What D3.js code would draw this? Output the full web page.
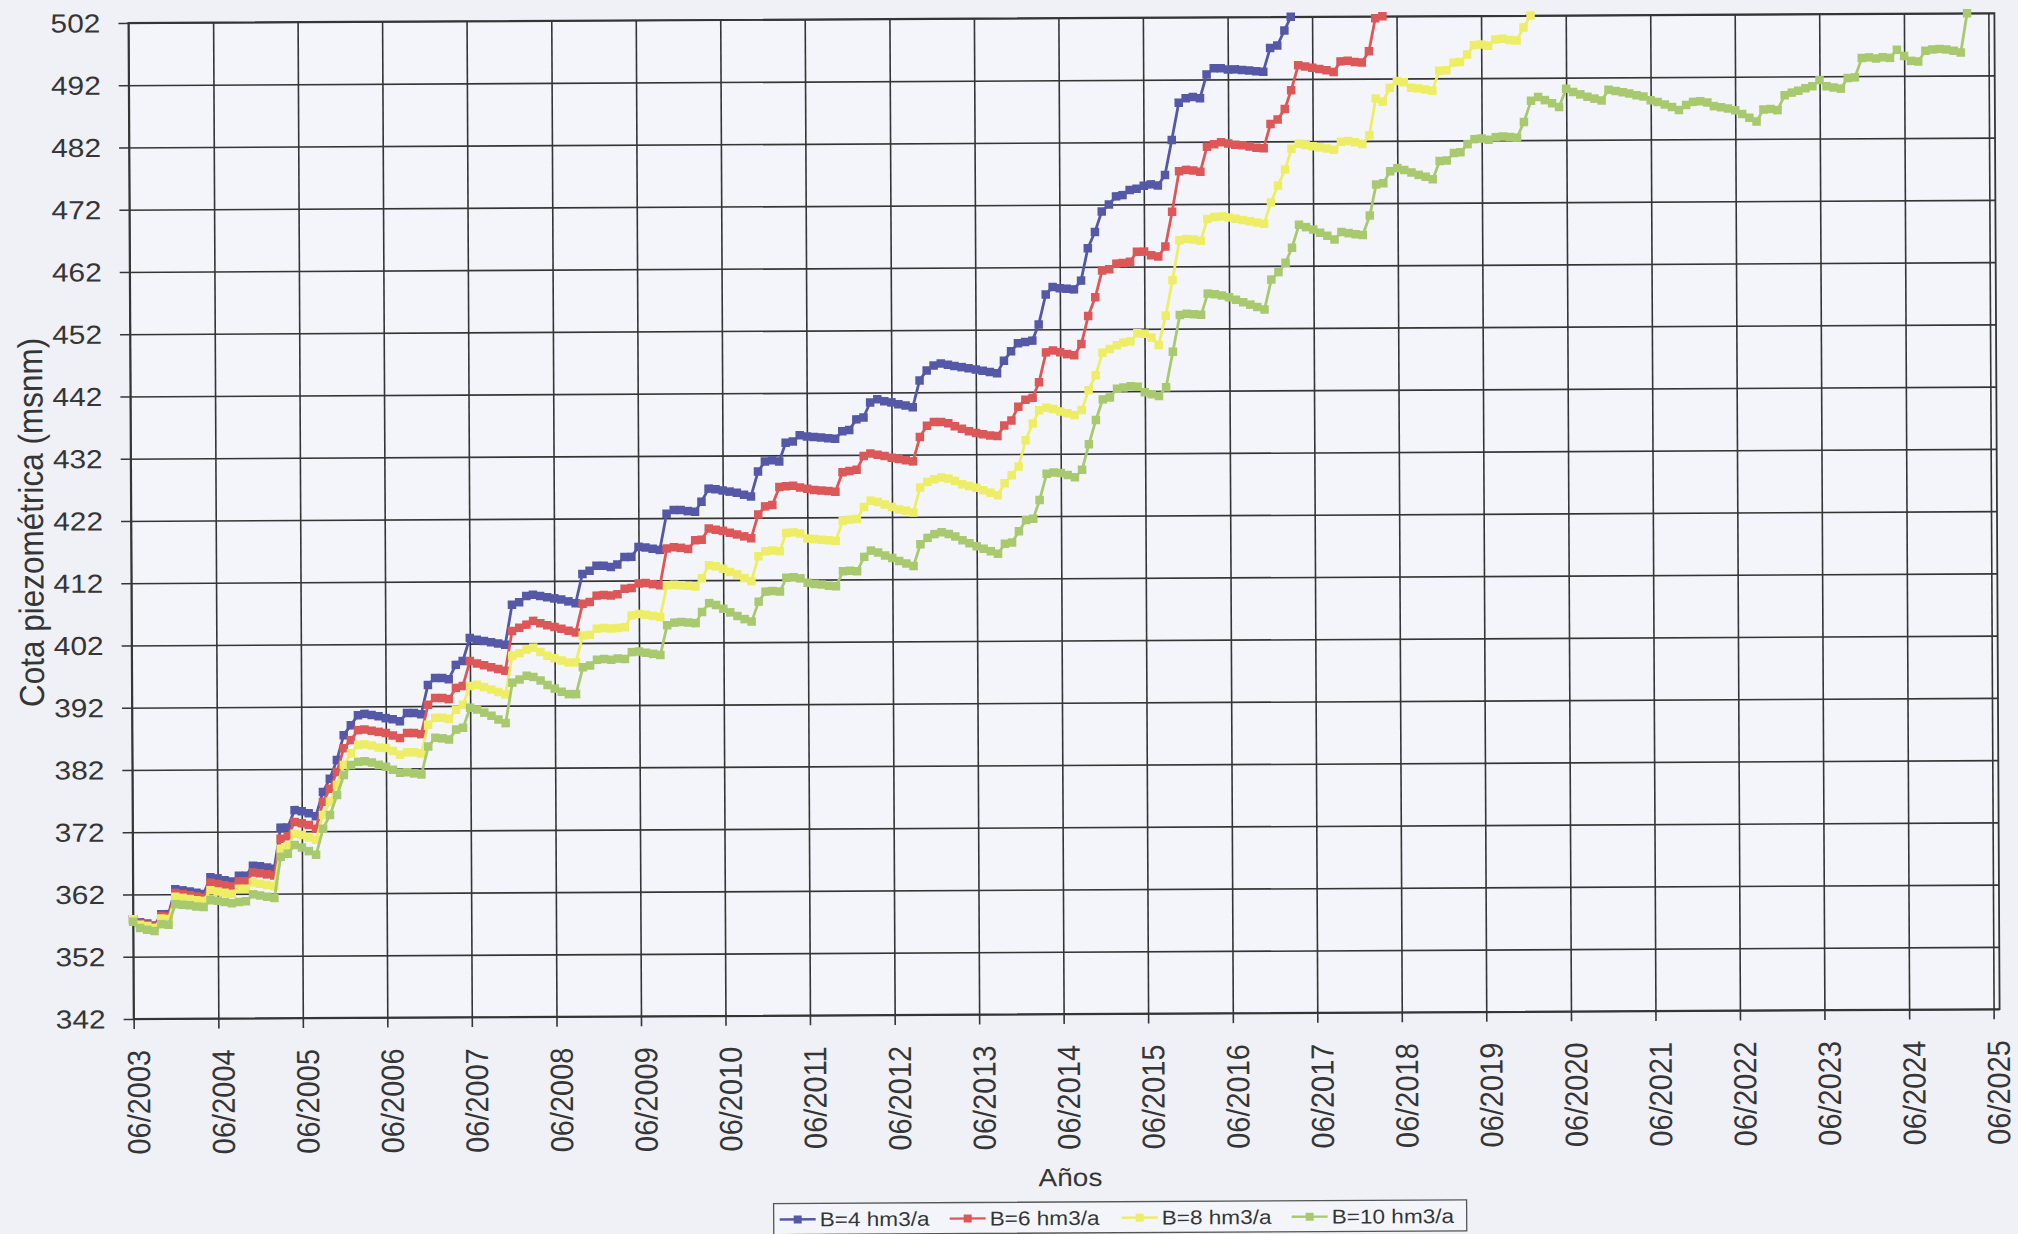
<!DOCTYPE html>
<html>
<head>
<meta charset="utf-8">
<script src="https://cdn.jsdelivr.net/npm/d3@7"></script>
<style>
  html, body { margin: 0; padding: 0; background: #eff1f7; }
  svg { display: block; font-family: "Liberation Sans", Arial, sans-serif; }
</style>
</head>
<body>
<svg id="chart" width="2018" height="1234"></svg>
<script>
// Monthly piezometric level (m a.s.l.) for four pumping scenarios, first value = June 2003
const firstMonth = "2003-06";

const b4 = [
  358, 357.5, 357.3, 357, 358.8, 358.8, 362.8, 362.6, 362.4, 362.2, 362, 364.7,
  364.5, 364.2, 364, 364.9, 364.9, 366.5, 366.4, 366.2, 366, 372.6, 372.6, 375.4,
  375.2, 374.9, 374.4, 378.3, 380.4, 383.4, 387.4, 389, 390.6, 390.8, 390.6, 390.4,
  390.1, 389.9, 389.6, 390.9, 390.9, 390.7, 395.4, 396.5, 396.5, 396.3, 398.6, 399.2,
  402.9, 402.6, 402.4, 402.2, 402, 401.8, 408.2, 408.6, 409.6, 409.8, 409.6, 409.4,
  409.2, 409, 408.7, 408.4, 413.1, 413.6, 414.4, 414.4, 414.2, 414.6, 415.8, 415.8,
  417.4, 417.3, 417.1, 416.9, 422.7, 423.3, 423.3, 423.1, 423, 424.6, 426.7, 426.6,
  426.4, 426.2, 426, 425.7, 425.4, 429.4, 431, 431.2, 431, 434, 434.2, 435.2,
  435, 434.9, 434.8, 434.7, 434.6, 435.8, 436, 437.7, 438, 440.4, 440.9, 440.6,
  440.4, 440.1, 439.9, 439.6, 443.9, 445.5, 446.3, 446.6, 446.4, 446.2, 446, 445.8,
  445.6, 445.4, 445.2, 445, 447, 448.5, 449.8, 450, 450.2, 452.8, 457.6, 458.8,
  458.6, 458.5, 458.4, 459.8, 465, 467.6, 470.9, 472, 473.3, 473.5, 474.3, 474.5,
  475, 475.2, 475, 476.7, 482.3, 488.3, 489, 489.2, 489, 492.8, 493.8, 493.8,
  493.6, 493.6, 493.5, 493.4, 493.3, 493.2, 497, 497.4, 499.8, 502
];

const b6 = [
  358, 357.3, 357.1, 356.8, 358.5, 358.4, 362.2, 362, 361.8, 361.6, 361.4, 363.8,
  363.6, 363.4, 363.2, 364, 364, 365.4, 365.3, 365.1, 364.9, 370.8, 371.2, 373.5,
  373.3, 373, 372.4, 376.7, 378.8, 381.5, 385.3, 386.6, 388.2, 388.3, 388.1, 387.9,
  387.7, 387.3, 386.9, 387.7, 387.7, 387.5, 392.2, 393.3, 393.3, 393.1, 394.9, 395.2,
  399.2, 398.8, 398.5, 398.2, 397.9, 397.6, 404, 404.5, 405, 405.6, 405.2, 404.9,
  404.6, 404.3, 404, 403.7, 408.3, 408.6, 409.6, 409.7, 409.6, 409.8, 410.7, 410.8,
  411.5, 411.6, 411.4, 411.2, 417.1, 417.3, 417.2, 417, 418.4, 418.5, 420.3, 420.1,
  419.9, 419.6, 419.3, 419, 418.7, 422.5, 423.8, 424, 426.9, 427, 427.1, 426.8,
  426.6, 426.4, 426.3, 426.2, 426.1, 429.2, 429.4, 429.6, 431.8, 432.2, 432, 431.8,
  431.5, 431.3, 431.1, 430.9, 434.8, 436.6, 437.2, 437.2, 437, 436.5, 436.1, 435.7,
  435.4, 435.2, 435, 434.9, 436.6, 437.4, 439.6, 440.7, 441, 443.5, 448.3, 448.6,
  448.3, 448, 447.8, 449.6, 454.1, 457.1, 461.4, 461.6, 462.5, 462.6, 462.8, 464.4,
  464.4, 463.8, 463.6, 465.2, 470.8, 477.3, 477.5, 477.4, 477.2, 481.2, 481.6, 481.9,
  481.7, 481.5, 481.4, 481.2, 481, 480.9, 484.8, 485.5, 487.2, 490.2, 494.2, 494,
  493.8, 493.6, 493.4, 493.1, 494.8, 494.9, 494.7, 494.6, 496.4, 501.7, 502
];

const b8 = [
  358, 357.1, 356.9, 356.6, 358.1, 358, 361.6, 361.4, 361.2, 361, 360.9, 362.6,
  362.4, 362.2, 362, 362.8, 362.8, 363.8, 363.6, 363.4, 363.2, 369.2, 369.6, 371.6,
  371.4, 371, 370.6, 374.6, 376.7, 379.4, 382.6, 384.5, 385.8, 385.9, 385.7, 385.4,
  385.3, 384.8, 384.2, 384.6, 384.6, 384.4, 389, 390.1, 390.1, 389.9, 391.4, 392.2,
  395.2, 395.4, 395, 394.6, 394.2, 393.8, 400, 400.4, 401, 401.3, 400.6, 400,
  399.6, 399.2, 398.9, 398.9, 403.2, 403.3, 404.3, 404.4, 404.3, 404.4, 404.5, 406.4,
  406.6, 406.5, 406.3, 406.1, 411.2, 411.3, 411.2, 411.1, 411, 412.3, 414.4, 414.2,
  413.8, 413.3, 412.9, 412.3, 411.8, 415.8, 416.6, 416.7, 416.6, 419.5, 419.6, 419.4,
  418.6, 418.5, 418.4, 418.3, 418.2, 421.4, 421.6, 421.7, 423.6, 424.6, 424.4, 424,
  423.6, 423.2, 423, 422.7, 426.7, 427.6, 428, 428.3, 428.1, 427.7, 427.2, 426.9,
  426.6, 426.2, 425.8, 425.4, 427.3, 428.6, 430, 434.2, 436.9, 439, 439.4, 439.2,
  438.8, 438.5, 438.2, 439, 442.2, 444.6, 448.2, 448.8, 449.4, 449.8, 450, 451.3,
  451.2, 450.6, 449.4, 454.1, 459.8, 466.2, 466.4, 466.3, 466.1, 469.6, 469.9, 470,
  469.8, 469.6, 469.4, 469.2, 469, 468.8, 472.2, 474.9, 477.5, 480.8, 481.6, 481.4,
  481.2, 481, 480.8, 480.6, 481.9, 482, 481.8, 481.5, 482.9, 488.8, 488.3, 490.5,
  491.6, 491.4, 490.5, 490.4, 490.2, 490, 493.2, 493.3, 494.5, 494.6, 495.8, 497.3,
  497.4, 497.2, 498.2, 498.3, 498.1, 498, 500.1, 502
];

const b10 = [
  357.6, 356.6, 356.3, 356.1, 357.2, 357.1, 360.4, 360.3, 360.2, 360, 359.9, 361,
  360.9, 360.7, 360.5, 360.7, 360.8, 361.9, 361.7, 361.5, 361.3, 367.9, 368.4, 369.8,
  369.4, 368.8, 368.2, 372.4, 374.6, 377.8, 381, 382.6, 383.1, 383.2, 383, 382.6,
  382.3, 381.8, 381.3, 381.4, 381.2, 381, 385.5, 386.9, 386.8, 386.6, 388.2, 388.5,
  391.7, 391.4, 390.9, 390.4, 389.8, 389.2, 395.7, 396.2, 396.8, 396.6, 396, 395.3,
  394.7, 394.2, 393.8, 393.8, 398.1, 398.4, 399.3, 399.4, 399.3, 399.5, 399.4, 400.5,
  400.6, 400.4, 400.2, 400, 404.8, 405.2, 405.3, 405.2, 405.1, 406.9, 408.3, 408,
  407.4, 406.8, 406.2, 405.7, 405.3, 408.5, 410.1, 410.2, 410.1, 412.3, 412.4, 412.2,
  411.5, 411.3, 411.2, 411, 410.9, 413.3, 413.4, 413.3, 415.6, 416.6, 416.3, 415.8,
  415.4, 414.9, 414.5, 414.1, 417.6, 418.6, 419.2, 419.5, 419.2, 418.8, 418.2, 417.7,
  417.2, 416.8, 416.4, 416, 417.6, 417.8, 419.6, 421.4, 421.6, 424.6, 428.8, 429,
  428.9, 428.6, 428.2, 429.4, 433.5, 437.4, 440.7, 441, 442.4, 442.6, 442.8, 442.7,
  441.8, 441.5, 441.2, 442.6, 448.3, 454.2, 454.4, 454.3, 454.2, 457.6, 457.5, 457.3,
  457, 456.6, 456.2, 455.8, 455.4, 455, 459.8, 461, 462.5, 464.9, 468.6, 468.2,
  467.8, 467.3, 466.8, 466.2, 467.4, 467.2, 467, 466.9, 470, 475, 475.2, 477.1,
  477.6, 477.3, 476.9, 476.5, 476.2, 475.8, 478.7, 478.8, 480, 480.1, 481.4, 482.2,
  482.3, 482.1, 482.5, 482.6, 482.5, 482.4, 484.9, 488.3, 488.9, 488.4, 487.9, 487.3,
  490.2, 489.7, 489.3, 488.9, 488.6, 488.3, 490, 489.8, 489.6, 489.4, 489.1, 488.9,
  488.3, 488, 487.6, 487.2, 486.7, 487.5, 488, 488.1, 487.9, 487.3, 487.1, 486.9,
  486.6, 486, 485.4, 484.8, 486.7, 486.8, 486.6, 489, 489.4, 489.7, 490.1, 490.4,
  491.4, 490.4, 490.2, 490, 491.7, 491.8, 494.9, 495, 494.8, 495, 494.9, 496.2,
  495.2, 494.4, 494.3, 496, 496.2, 496.3, 496.2, 496, 495.7, 502
];

const seriesNames = ["B=4 hm3/a", "B=6 hm3/a", "B=8 hm3/a", "B=10 hm3/a"];
const seriesColors = ["#5558a6", "#dc5858", "#eeee66", "#a8c96e"];

const yTicks = [342, 352, 362, 372, 382, 392, 402, 412, 422, 432, 442, 452, 462, 472, 482, 492, 502];
const xTickLabels = [
  "06/2003", "06/2004", "06/2005", "06/2006", "06/2007", "06/2008", "06/2009", "06/2010",
  "06/2011", "06/2012", "06/2013", "06/2014", "06/2015", "06/2016", "06/2017", "06/2018",
  "06/2019", "06/2020", "06/2021", "06/2022", "06/2023", "06/2024", "06/2025"
];
const yTitle = "Cota piezométrica (msnm)";
const xTitle = "Años";

// ---- layout ----
const W = 2018, H = 1234;
const plot = { left: 131, right: 1997, top: 18, bottom: 1014 };
const ink = "#353535";

const parseMonth = d3.timeParse("%Y-%m");
const parseTick = d3.timeParse("%m/%Y");
const t0 = parseMonth(firstMonth);
const xTickDates = xTickLabels.map(parseTick);

const x = d3.scaleTime()
  .domain([xTickDates[0], xTickDates[xTickDates.length - 1]])
  .range([plot.left, 1991]);
const y = d3.scaleLinear().domain([342, 502]).range([plot.bottom, plot.top]);

const svg = d3.select("#chart");
svg.append("rect").attr("width", W).attr("height", H).attr("fill", "#eff1f7");

// the whole figure sits very slightly tilted on the page
const g = svg.append("g").attr("transform", "rotate(-0.3 1065 516)");

g.append("rect")
  .attr("x", plot.left).attr("y", plot.top)
  .attr("width", plot.right - plot.left).attr("height", plot.bottom - plot.top)
  .attr("fill", "#f3f5fa");

// y axis + horizontal grid
const yAxis = g.append("g")
  .attr("transform", `translate(${plot.left},0)`)
  .call(d3.axisLeft(y).tickValues(yTicks).tickFormat(d3.format("d")).tickSizeOuter(0));
yAxis.select(".domain").remove();
yAxis.selectAll(".tick line")
  .attr("x1", -10).attr("x2", plot.right - plot.left)
  .attr("stroke", ink).attr("stroke-width", 1.6);
yAxis.selectAll(".tick text")
  .attr("x", null).attr("dy", null)
  .attr("transform", "translate(-28,0) scale(1.15,1)")
  .attr("dominant-baseline", "central")
  .attr("text-anchor", "end")
  .attr("font-size", 26)
  .attr("fill", ink);

// x axis + vertical grid
const xAxis = g.append("g")
  .attr("transform", `translate(0,${plot.bottom})`)
  .call(d3.axisBottom(x).tickValues(xTickDates).tickFormat(d3.timeFormat("%m/%Y")).tickSizeOuter(0));
xAxis.select(".domain").remove();
xAxis.selectAll(".tick line")
  .attr("y1", -(plot.bottom - plot.top)).attr("y2", 10)
  .attr("stroke", ink).attr("stroke-width", 1.6);
xAxis.selectAll(".tick text")
  .attr("x", null).attr("y", null).attr("dy", null)
  .attr("transform", "translate(4,31) scale(1.1,1) rotate(-90)")
  .attr("dominant-baseline", "central")
  .attr("text-anchor", "end")
  .attr("font-size", 29)
  .attr("fill", ink);

// plot frame
g.append("rect")
  .attr("x", plot.left).attr("y", plot.top)
  .attr("width", plot.right - plot.left).attr("height", plot.bottom - plot.top)
  .attr("fill", "none").attr("stroke", ink).attr("stroke-width", 1.8);

// axis titles
g.append("text")
  .attr("transform", "translate(31,517) scale(1.1,1) rotate(-90)")
  .attr("text-anchor", "middle").attr("dominant-baseline", "central")
  .attr("font-size", 31.5).attr("fill", ink)
  .text(yTitle);

g.append("text")
  .attr("transform", "translate(1067,1186) scale(1.12,1)")
  .attr("text-anchor", "middle")
  .attr("font-size", 25).attr("fill", ink)
  .text(xTitle);

// series
const allSeries = [b4, b6, b8, b10].map((vals, i) => ({
  name: seriesNames[i],
  color: seriesColors[i],
  points: vals.map((v, k) => ({ date: d3.timeMonth.offset(t0, k), v }))
}));

const line = d3.line().x(d => x(d.date)).y(d => y(d.v));
const mk = 8.5;

allSeries.forEach(s => {
  const sg = g.append("g");
  sg.append("path")
    .attr("d", line(s.points))
    .attr("fill", "none")
    .attr("stroke", s.color)
    .attr("stroke-width", 2.8)
    .attr("stroke-linejoin", "round");
  sg.selectAll("rect")
    .data(s.points)
    .join("rect")
    .attr("x", d => x(d.date) - mk / 2)
    .attr("y", d => y(d.v) - mk / 2)
    .attr("width", mk).attr("height", mk)
    .attr("fill", s.color);
});

// legend
const legend = g.append("g");
legend.append("rect")
  .attr("x", 770).attr("y", 1202).attr("width", 693).attr("height", 31)
  .attr("fill", "#f3f5fa").attr("stroke", "#555").attr("stroke-width", 1.3);
const legendX = [776, 946, 1118, 1288];
allSeries.forEach((s, i) => {
  const lx = legendX[i];
  legend.append("line")
    .attr("x1", lx).attr("x2", lx + 36).attr("y1", 1218).attr("y2", 1218)
    .attr("stroke", s.color).attr("stroke-width", 2.4);
  legend.append("rect")
    .attr("x", lx + 18 - 4).attr("y", 1214).attr("width", 8).attr("height", 8)
    .attr("fill", s.color);
  legend.append("text")
    .attr("transform", `translate(${lx + 40},1225) scale(1.13,1)`)
    .attr("font-size", 20).attr("fill", ink)
    .text(s.name);
});
</script>
</body>
</html>
